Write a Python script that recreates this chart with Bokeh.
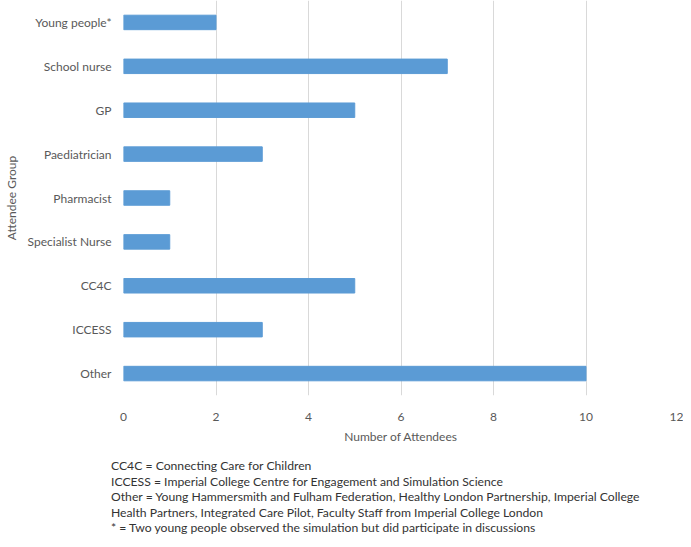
from bokeh.plotting import figure
from bokeh.models import ColumnDataSource, FixedTicker, Div
from bokeh.layouts import column
from bokeh.embed import file_html
from bokeh.resources import INLINE

groups = ["Young people*", "School nurse", "GP", "Paediatrician", "Pharmacist",
          "Specialist Nurse", "CC4C", "ICCESS", "Other"]
attendees = [2, 7, 5, 3, 1, 1, 5, 3, 10]
x_ticks = [0, 2, 4, 6, 8, 10, 12]
notes = [
    "CC4C = Connecting Care for Children",
    "ICCESS = Imperial College Centre for Engagement and Simulation Science",
    "Other = Young Hammersmith and Fulham Federation, Healthy London Partnership, Imperial College",
    "Health Partners, Integrated Care Pilot, Faculty Staff from Imperial College London",
    "* = Two young people observed the simulation but did participate in discussions",
]

FONT = "Lato"
GRAY = "#595959"

src = ColumnDataSource(data=dict(group=groups, n=attendees))

p = figure(frame_width=555, frame_height=395, y_range=list(reversed(groups)), x_range=(0, 12),
           output_backend="svg", toolbar_location=None,
           min_border_left=8, min_border_right=5, min_border_top=0, min_border_bottom=63)

p.hbar(y="group", right="n", left=0, height=0.33, source=src, color="#5b9bd5")

p.outline_line_color = None
p.ygrid.grid_line_color = None
p.xgrid.grid_line_color = "#d9d9d9"
p.xgrid.grid_line_width = 1
p.xaxis.ticker = FixedTicker(ticks=x_ticks)

for ax in (p.xaxis[0], p.yaxis[0]):
    ax.axis_line_color = None
    ax.major_tick_line_color = None
    ax.minor_tick_line_color = None
    ax.major_label_text_font = FONT
    ax.major_label_text_font_size = "12px"
    ax.major_label_text_color = GRAY
    ax.axis_label_text_font = FONT
    ax.axis_label_text_font_size = "12px"
    ax.axis_label_text_color = GRAY
    ax.axis_label_text_font_style = "normal"

p.xaxis.axis_label = "Number of Attendees"
p.yaxis.axis_label = "Attendee Group"
p.xaxis.major_label_standoff = 11
p.xaxis.axis_label_standoff = 5
p.yaxis.major_label_standoff = 6
p.yaxis.axis_label_standoff = 6

body = "<br>".join(n.replace("&", "&amp;") for n in notes)
html = ('<div style="padding-left:111px; font-family:Lato; '
        'font-size:12.2px; line-height:15.5px; color:#333333; white-space:nowrap;">'
        + body + "</div>")
note = Div(text=html, margin=(0, 0, 0, 0), width=675, height=76)

layout = column(p, note, spacing=0)
open("out.html", "w").write(file_html(layout, INLINE))
